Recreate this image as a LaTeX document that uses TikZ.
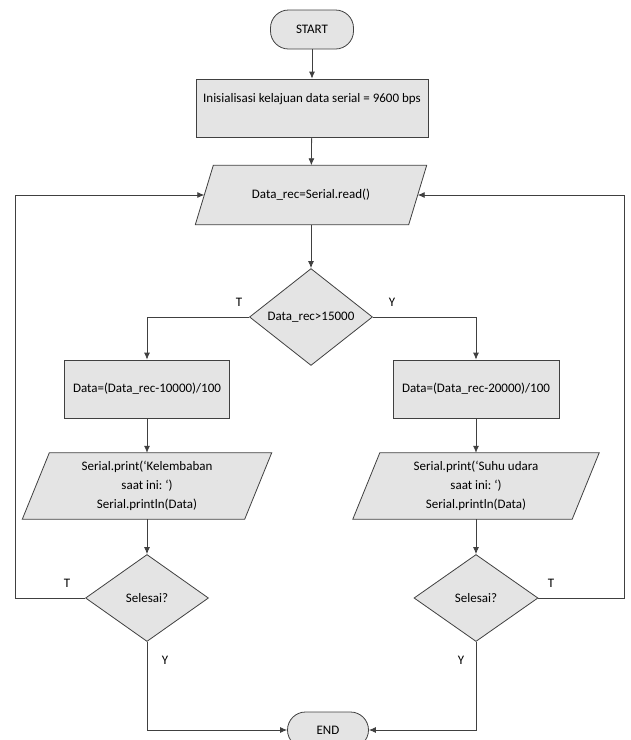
\documentclass[tikz,border=0pt]{standalone}
\usepackage{fontspec}
\setmainfont{Carlito}
\frenchspacing
\usepackage{tikz}
\usetikzlibrary{arrows.meta}
\usetikzlibrary{shapes}
\usetikzlibrary{backgrounds}
\definecolor{boxfill}{HTML}{E4E4E4}
\definecolor{boxline}{HTML}{404040}
\tikzset{%
    every node/.style={font=\fontsize{13}{19}\selectfont},
    box/.style={draw=boxline, fill=boxfill, line width=0.8pt, inner sep=0pt, align=center},
    term/.style={box, rectangle, rounded corners=18pt},
    proc/.style={box, rectangle},
    io/.style={rectangle, inner sep=0pt, align=center},
    cond/.style={box, diamond},
    flow/.style={draw=boxline, line width=0.8pt, -{Latex[length=7pt,width=6pt]}},
}

\begin{document}
\begin{tikzpicture}[x=1pt,y=-1pt]
\useasboundingbox (0,0) rectangle (631,740);
\node (start) [term, minimum width=83, minimum height=39] at (312,29.5) {START};
\node (init) [proc, minimum width=232, minimum height=58] at (312,108)
    {Inisialisasi kelajuan data serial = 9600 bps\\[2pt]~};
\node (inp) [io, minimum width=213, minimum height=59] at (311,195) {Data\_rec=Serial.read()};
\node (dec) [cond, minimum width=123, minimum height=88] at (311,317) {Data\_rec>15000};
\node (lrect) [proc, minimum width=165, minimum height=58] at (147,389) {Data=(Data\_rec-10000)/100};
\node (rrect) [proc, minimum width=166, minimum height=58] at (476,389) {Data=(Data\_rec-20000)/100};
\node (lout) [io, minimum width=222, minimum height=66] at (147,486)
    {Serial.print(‘Kelembaban\\saat ini: ‘)\\Serial.println(Data)};
\node (rout) [io, minimum width=219, minimum height=66] at (476,486)
    {Serial.print(‘Suhu udara\\saat ini: ‘)\\Serial.println(Data)};
\node (lsel) [cond, minimum width=123, minimum height=87] at (147,598) {Selesai?};
\node (rsel) [cond, minimum width=124, minimum height=87] at (476,598) {Selesai?};
\node (end) [term, minimum width=81, minimum height=36] at (328,730) {END};
\coordinate (lx) at (15,0);
\coordinate (rx) at (624,0);
% parallelograms behind the text
\begin{scope}[on background layer]
\foreach \n/\s in {inp/9, lout/13.5, rout/13.5}
    \draw [box] ([xshift=\s]\n.north west) -- ([xshift=\s]\n.north east)
        -- ([xshift=-\s]\n.south east) -- ([xshift=-\s]\n.south west) -- cycle;
\end{scope}
% labels
\node (t1) at (239,302) {T};
\node (y1) at (392,302) {Y};
\node (t2) at (67,583) {T};
\node (t3) at (551,583) {T};
\node (y2) at (165,660) {Y};
\node (y3) at (461,660) {Y};
% connectors
\path [flow] (start) -- (init);
\path [flow] (init) -- (inp);
\path [flow] (inp) -- (dec);
\path [flow] (dec.west) -| (lrect.north);
\path [flow] (dec.east) -| (rrect.north);
\path [flow] (lrect) -- (lout);
\path [flow] (rrect) -- (rout);
\path [flow] (lout) -- (lsel);
\path [flow] (rout) -- (rsel);
\path [flow] (lsel.west) -- (lsel.west -| lx) |- (inp.west);
\path [flow] (rsel.east) -- (rsel.east -| rx) |- (inp.east);
\path [flow] (lsel.south) |- (end.west);
\path [flow] (rsel.south) |- (end.east);
\end{tikzpicture}
\end{document}
